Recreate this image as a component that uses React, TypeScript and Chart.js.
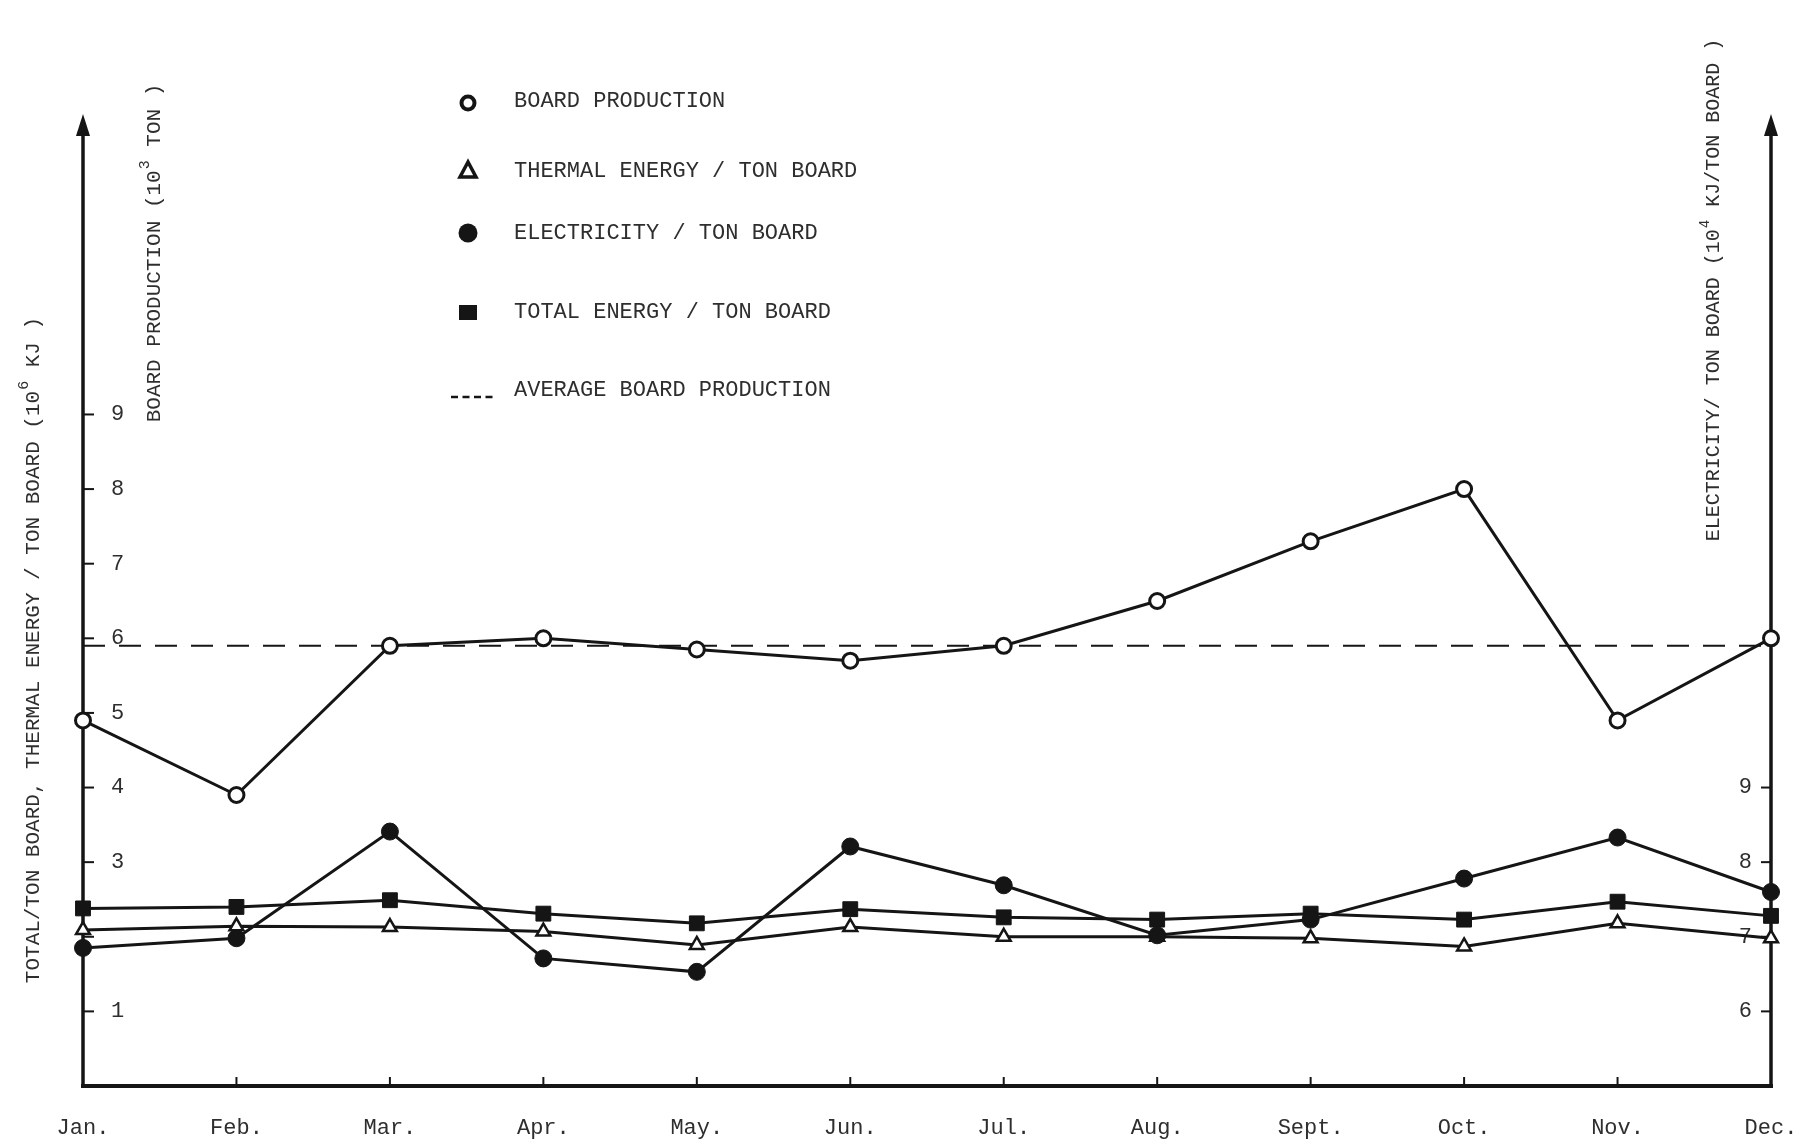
import React, { useEffect, useRef } from "react";
import { Chart, registerables } from "chart.js";

Chart.register(...registerables);

// Monthly figures
const months = ["Jan.", "Feb.", "Mar.", "Apr.", "May.", "Jun.", "Jul.", "Aug.", "Sept.", "Oct.", "Nov.", "Dec."];
// board production, 10^3 ton (left scale)
const boardProduction = [4.9, 3.9, 5.9, 6.0, 5.85, 5.7, 5.9, 6.5, 7.3, 8.0, 4.9, 6.0];
// thermal energy per ton board, 10^6 kJ (left scale)
const thermalPerTon = [2.09, 2.14, 2.13, 2.07, 1.89, 2.13, 2.0, 2.0, 1.98, 1.87, 2.18, 1.98];
// electricity per ton board, 10^4 kJ (right scale)
const electricityPerTon = [6.85, 6.98, 8.41, 6.71, 6.53, 8.21, 7.69, 7.02, 7.23, 7.78, 8.33, 7.6];
// total energy per ton board, 10^6 kJ (left scale)
const totalPerTon = [2.38, 2.4, 2.49, 2.31, 2.18, 2.37, 2.26, 2.23, 2.31, 2.23, 2.47, 2.28];
// yearly average board production
const averageBoardProduction = [5.9, 5.9, 5.9, 5.9, 5.9, 5.9, 5.9, 5.9, 5.9, 5.9, 5.9, 5.9];

// Axis ticks
const leftTickLabels = [1, 3, 4, 5, 6, 7, 8, 9];
const leftTickMarks = [1, 2, 3, 4, 5, 6, 7, 8, 9];
const rightTickLabels = [6, 7, 8, 9];

const legendLabels = [
  "BOARD PRODUCTION",
  "THERMAL ENERGY / TON BOARD",
  "ELECTRICITY / TON BOARD",
  "TOTAL ENERGY / TON BOARD",
  "AVERAGE BOARD PRODUCTION",
];

// Rotated axis titles: [text, isSuperscript]
const leftOuterTitle: [string, boolean][] = [
  ["TOTAL/TON BOARD, THERMAL ENERGY / TON BOARD (10", false],
  ["6", true],
  [" KJ )", false],
];
const leftInnerTitle: [string, boolean][] = [
  ["BOARD PRODUCTION (10", false],
  ["3", true],
  [" TON )", false],
];
const rightTitle: [string, boolean][] = [
  ["ELECTRICITY/ TON BOARD (10", false],
  ["4", true],
  [" KJ/TON BOARD )", false],
];

const INK = "#151515";
const TEXT = "#2e2e2e";
const FONT = "'Liberation Mono', 'DejaVu Sans Mono', monospace";

function strokeLine(ctx: CanvasRenderingContext2D, x1: number, y1: number, x2: number, y2: number) {
  ctx.beginPath();
  ctx.moveTo(x1, y1);
  ctx.lineTo(x2, y2);
  ctx.stroke();
}

function arrowHead(ctx: CanvasRenderingContext2D, x: number, tipY: number) {
  ctx.beginPath();
  ctx.moveTo(x, tipY);
  ctx.lineTo(x - 7, tipY + 22);
  ctx.lineTo(x + 7, tipY + 22);
  ctx.closePath();
  ctx.fill();
}

function drawRotatedTitle(
  ctx: CanvasRenderingContext2D,
  parts: [string, boolean][],
  cx: number,
  cy: number,
  size: number
) {
  ctx.save();
  ctx.translate(cx, cy);
  ctx.rotate(-Math.PI / 2);
  ctx.fillStyle = TEXT;
  ctx.textBaseline = "middle";
  ctx.textAlign = "left";
  const main = `${size}px ${FONT}`;
  const sup = `${Math.round(size * 0.72)}px ${FONT}`;
  let total = 0;
  parts.forEach(([t, s]) => {
    ctx.font = s ? sup : main;
    total += ctx.measureText(t).width + (s ? 2 : 0);
  });
  let x = -total / 2;
  parts.forEach(([t, s]) => {
    ctx.font = s ? sup : main;
    ctx.fillText(t, x + (s ? 1 : 0), s ? -size * 0.45 : 0);
    x += ctx.measureText(t).width + (s ? 2 : 0);
  });
  ctx.restore();
}

const framePlugin = {
  id: "frame",
  beforeDatasetsDraw(chart: any) {
    const { ctx, chartArea: a, scales } = chart;
    ctx.save();
    ctx.strokeStyle = INK;
    ctx.fillStyle = INK;
    const tipY = a.top - 2;

    // vertical axes with arrow heads
    ctx.lineWidth = 3.5;
    strokeLine(ctx, a.left, a.bottom + 2, a.left, tipY + 18);
    strokeLine(ctx, a.right, a.bottom + 2, a.right, tipY + 18);
    arrowHead(ctx, a.left, tipY);
    arrowHead(ctx, a.right, tipY);

    // base line
    ctx.lineWidth = 4;
    strokeLine(ctx, a.left - 2, a.bottom, a.right + 2, a.bottom);

    // month tick marks
    ctx.lineWidth = 2;
    const xs = scales.x;
    for (let i = 1; i < months.length - 1; i++) {
      const x = xs.getPixelForTick(i);
      strokeLine(ctx, x, a.bottom, x, a.bottom - 9);
    }
    // left scale tick marks
    leftTickMarks.forEach((v) => {
      const y = scales.y.getPixelForValue(v);
      strokeLine(ctx, a.left, y, a.left + 11, y);
    });
    // right scale tick marks
    rightTickLabels.forEach((v) => {
      const y = scales.y2.getPixelForValue(v);
      strokeLine(ctx, a.right, y, a.right - 10, y);
    });
    ctx.restore();
  },
  afterDraw(chart: any) {
    const { ctx } = chart;
    ctx.save();

    // legend block
    const markerX = 468;
    const textX = 514;
    const rowY = [101, 171, 233, 312, 390];
    ctx.strokeStyle = INK;
    ctx.fillStyle = INK;

    // open circle
    ctx.lineWidth = 4;
    ctx.beginPath();
    ctx.arc(markerX, rowY[0] + 2, 6.5, 0, Math.PI * 2);
    ctx.stroke();
    // open triangle
    ctx.lineWidth = 3.5;
    ctx.beginPath();
    ctx.moveTo(markerX, rowY[1] - 9);
    ctx.lineTo(markerX - 8, rowY[1] + 6);
    ctx.lineTo(markerX + 8, rowY[1] + 6);
    ctx.closePath();
    ctx.stroke();
    // filled circle
    ctx.beginPath();
    ctx.arc(markerX, rowY[2], 9.5, 0, Math.PI * 2);
    ctx.fill();
    // filled square
    ctx.beginPath();
    ctx.rect(markerX - 9, rowY[3] - 7, 18, 15);
    ctx.fill();
    // dashes
    ctx.lineWidth = 2.5;
    ctx.setLineDash([7, 4.5]);
    strokeLine(ctx, markerX - 17, rowY[4] + 7, markerX + 26, rowY[4] + 7);
    ctx.setLineDash([]);

    ctx.fillStyle = TEXT;
    ctx.font = `22px ${FONT}`;
    ctx.textBaseline = "middle";
    ctx.textAlign = "left";
    legendLabels.forEach((t, i) => ctx.fillText(t, textX, rowY[i]));
    ctx.restore();

    // axis titles
    drawRotatedTitle(ctx, leftOuterTitle, 33, 650, 21);
    drawRotatedTitle(ctx, leftInnerTitle, 154, 253, 21);
    drawRotatedTitle(ctx, rightTitle, 1714, 290, 20);
  },
};

export default function App() {
  const canvasRef = useRef<HTMLCanvasElement | null>(null);

  useEffect(() => {
    const canvas = canvasRef.current;
    if (!canvas) return;

    const lineStyle = {
      borderColor: INK,
      borderWidth: 3,
      tension: 0,
      pointBorderColor: INK,
      pointBorderWidth: 3,
      clip: false as const,
    };

    const chart = new Chart(canvas, {
      type: "line",
      data: {
        labels: months,
        datasets: [
          {
            ...lineStyle,
            label: legendLabels[0],
            data: boardProduction,
            yAxisID: "y",
            pointStyle: "circle",
            pointRadius: 7.5,
            pointBackgroundColor: "#ffffff",
          },
          {
            ...lineStyle,
            label: legendLabels[2],
            data: electricityPerTon,
            yAxisID: "y2",
            pointStyle: "circle",
            pointRadius: 8.5,
            pointBorderWidth: 1,
            pointBackgroundColor: INK,
          },
          {
            ...lineStyle,
            label: legendLabels[3],
            data: totalPerTon,
            yAxisID: "y",
            pointStyle: "rect",
            pointRadius: 10.5,
            pointBorderWidth: 1,
            pointBackgroundColor: INK,
          },
          {
            ...lineStyle,
            label: legendLabels[1],
            data: thermalPerTon,
            yAxisID: "y",
            pointStyle: "triangle",
            pointRadius: 8,
            pointBorderWidth: 2.5,
            pointBackgroundColor: "#ffffff",
          },
          {
            label: legendLabels[4],
            data: averageBoardProduction,
            yAxisID: "y",
            borderColor: INK,
            borderWidth: 2.2,
            borderDash: [22, 14],
            pointRadius: 0,
            tension: 0,
            clip: false as const,
          },
        ],
      },
      options: {
        responsive: false,
        animation: false,
        events: [],
        layout: { padding: { left: 83, right: 32, top: 116, bottom: 0 } },
        plugins: {
          legend: { display: false },
          tooltip: { enabled: false },
        },
        scales: {
          x: {
            type: "category",
            offset: false,
            grid: {
              display: true,
              drawOnChartArea: false,
              drawTicks: true,
              tickLength: 29,
              color: "rgba(0,0,0,0)",
            },
            border: { display: false },
            ticks: {
              autoSkip: false,
              maxRotation: 0,
              padding: 0,
              color: TEXT,
              font: { family: FONT, size: 22 },
            },
            afterFit: (s: any) => {
              s.height = 57;
            },
          },
          y: {
            position: "left",
            min: 0,
            max: 13,
            grid: { display: false },
            border: { display: false },
            ticks: {
              stepSize: 1,
              mirror: true,
              padding: 28,
              color: TEXT,
              font: { family: FONT, size: 22 },
              callback: (v: any) => (leftTickLabels.includes(Number(v)) ? String(v) : ""),
            },
            afterFit: (s: any) => {
              s.width = 0;
            },
          },
          y2: {
            position: "right",
            min: 5,
            max: 18,
            grid: { display: false },
            border: { display: false },
            ticks: {
              stepSize: 1,
              mirror: true,
              padding: -19,
              color: TEXT,
              font: { family: FONT, size: 22 },
              callback: (v: any) => (rightTickLabels.includes(Number(v)) ? String(v) : ""),
            },
            afterFit: (s: any) => {
              s.width = 0;
            },
          },
        },
      },
      plugins: [framePlugin],
    });

    return () => chart.destroy();
  }, []);

  return (
    <div style={{ position: "absolute", left: 0, top: 0, width: 1803, height: 1143, background: "#ffffff" }}>
      <canvas ref={canvasRef} width={1803} height={1143} style={{ display: "block", width: 1803, height: 1143 }} />
    </div>
  );
}
